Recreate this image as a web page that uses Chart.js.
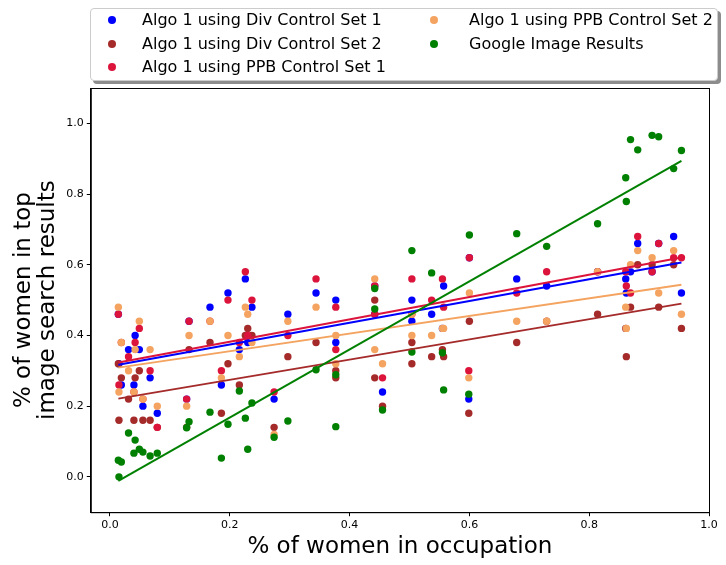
<!DOCTYPE html>
<html>
<head>
<meta charset="utf-8">
<script src="https://cdn.jsdelivr.net/npm/chart.js@4.4.0/dist/chart.umd.min.js"></script>
<style>
  body { margin: 0; background: #fff; font-family: 'DejaVu Sans', sans-serif; }
  #wrap { position: relative; width: 726px; height: 565px; }
  #grafico { position: absolute; left: 0; top: 0; }
  #legenda {
    position: absolute; left: 90px; top: 8px; width: 626px; height: 71px;
    border: 1px solid #ccc; border-radius: 4px; background: #fff;
    box-shadow: 3px 3px 0 rgba(0, 0, 0, 0.45);
  }
  .voce { position: absolute; font-size: 16px; line-height: 20px; white-space: nowrap; color: #000; }
  .pallino { position: absolute; width: 8px; height: 8px; border-radius: 50%; }
</style>
</head>
<body>
<div id="wrap">
  <canvas id="grafico" width="726" height="565"></canvas>
  <div id="legenda"></div>
</div>
<script>
// % donne nell'occupazione (asse x), una voce per occupazione
const percDonneOccupazione = [
  0.014, 0.015, 0.019, 0.031, 0.040, 0.042, 0.049, 0.055, 0.067, 0.079,
  0.128, 0.132, 0.167, 0.186, 0.197, 0.216, 0.226, 0.230, 0.237, 0.274,
  0.297, 0.344, 0.377, 0.377, 0.442, 0.442, 0.455, 0.504, 0.504, 0.537,
  0.555, 0.557, 0.599, 0.600, 0.679, 0.729, 0.814, 0.861, 0.862, 0.869,
  0.881, 0.905, 0.916, 0.941, 0.954
];

const divSet1 = [
  0.46, 0.32, 0.26, 0.36, 0.26, 0.40, 0.36, 0.20, 0.28, 0.18,
  0.22, 0.44, 0.48, 0.26, 0.52, 0.36, 0.56, 0.38, 0.48, 0.22,
  0.46, 0.52, 0.50, 0.38, 0.54, 0.46, 0.24, 0.50, 0.44, 0.46,
  0.42, 0.54, 0.22, 0.62, 0.56, 0.54, 0.58, 0.56, 0.52, 0.58,
  0.66, 0.58, 0.66, 0.68, 0.52
];

const divSet2 = [
  0.32, 0.16, 0.28, 0.22, 0.16, 0.28, 0.30, 0.16, 0.16, 0.14,
  0.14, 0.36, 0.38, 0.18, 0.32, 0.26, 0.40, 0.42, 0.40, 0.14,
  0.34, 0.38, 0.30, 0.28, 0.50, 0.28, 0.20, 0.38, 0.32, 0.34,
  0.36, 0.34, 0.18, 0.44, 0.38, 0.44, 0.46, 0.42, 0.34, 0.48,
  0.60, 0.60, 0.48, 0.60, 0.42
];

const ppbSet1 = [
  0.46, 0.26, 0.38, 0.34, 0.24, 0.38, 0.42, 0.22, 0.30, 0.14,
  0.22, 0.44, 0.44, 0.30, 0.50, 0.38, 0.58, 0.40, 0.50, 0.24,
  0.40, 0.56, 0.48, 0.36, 0.54, 0.46, 0.28, 0.56, 0.46, 0.50,
  0.56, 0.48, 0.30, 0.62, 0.52, 0.58, 0.58, 0.58, 0.54, 0.52,
  0.68, 0.58, 0.66, 0.62, 0.62
];

const ppbSet2 = [
  0.48, 0.24, 0.38, 0.30, 0.24, 0.36, 0.44, 0.22, 0.36, 0.20,
  0.20, 0.40, 0.44, 0.28, 0.40, 0.34, 0.48, 0.46, 0.38, 0.12,
  0.44, 0.48, 0.40, 0.32, 0.56, 0.36, 0.32, 0.40, 0.46, 0.40,
  0.42, 0.42, 0.28, 0.52, 0.44, 0.44, 0.58, 0.48, 0.42, 0.60,
  0.64, 0.62, 0.52, 0.64, 0.46
];

const googleImmagini = [
  0.047, 0.000, 0.042, 0.124, 0.067, 0.104, 0.078, 0.070, 0.059, 0.067,
  0.139, 0.156, 0.183, 0.053, 0.149, 0.243, 0.166, 0.078, 0.209, 0.112,
  0.158, 0.303, 0.289, 0.142, 0.533, 0.475, 0.189, 0.640, 0.353, 0.577,
  0.351, 0.246, 0.234, 0.684, 0.688, 0.652, 0.716, 0.846, 0.779, 0.954,
  0.925, 0.966, 0.962, 0.872, 0.923
];

const tickAsse = [0.0, 0.2, 0.4, 0.6, 0.8, 1.0];

const serie = [
  { nome: 'Algo 1 using Div Control Set 1', valori: divSet1, colore: '#0000ff' },
  { nome: 'Algo 1 using Div Control Set 2', valori: divSet2, colore: '#a52a2a' },
  { nome: 'Algo 1 using PPB Control Set 1', valori: ppbSet1, colore: '#dc143c' },
  { nome: 'Algo 1 using PPB Control Set 2', valori: ppbSet2, colore: '#f4a460' },
  { nome: 'Google Image Results', valori: googleImmagini, colore: '#008000' }
];

// retta dei minimi quadrati, disegnata tra il primo e l'ultimo x
function retta(xs, ys) {
  const n = xs.length;
  const mx = xs.reduce((a, b) => a + b, 0) / n;
  const my = ys.reduce((a, b) => a + b, 0) / n;
  let sxy = 0, sxx = 0;
  xs.forEach((x, i) => {
    sxy += (x - mx) * (ys[i] - my);
    sxx += (x - mx) * (x - mx);
  });
  const b = sxy / sxx;
  const a = my - b * mx;
  const x0 = Math.min(...xs), x1 = Math.max(...xs);
  return [{ x: x0, y: a + b * x0 }, { x: x1, y: a + b * x1 }];
}

const datasets = [];
serie.forEach((s, i) => {
  datasets.push({
    label: s.nome,
    data: percDonneOccupazione.map((x, k) => ({ x, y: s.valori[k] })),
    backgroundColor: s.colore,
    borderColor: s.colore,
    borderWidth: 0,
    pointRadius: 3.7,
    showLine: false,
    order: 20 - i
  });
});
serie.forEach((s, i) => {
  datasets.push({
    label: s.nome + ' fit',
    data: retta(percDonneOccupazione, s.valori),
    borderColor: s.colore,
    borderWidth: 2,
    pointRadius: 0,
    showLine: true,
    order: 10 - i
  });
});

// cornice completa attorno all'area del grafico
const cornice = {
  id: 'cornice',
  afterDraw(chart) {
    const { ctx, chartArea: a } = chart;
    ctx.save();
    ctx.strokeStyle = '#000';
    ctx.lineWidth = 1;
    ctx.strokeRect(a.left + 0.5, a.top + 0.5, a.right - a.left, a.bottom - a.top);
    ctx.restore();
  }
};

const fissaTick = axis => { axis.ticks = tickAsse.map(v => ({ value: v })); };

new Chart(document.getElementById('grafico').getContext('2d'), {
  type: 'scatter',
  data: { datasets },
  plugins: [cornice],
  options: {
    responsive: false,
    animation: false,
    layout: { padding: { top: 88, right: 17, left: 8, bottom: 0 } },
    plugins: { legend: { display: false }, tooltip: { enabled: false } },
    scales: {
      x: {
        min: -0.032,
        max: 1.0,
        afterBuildTicks: fissaTick,
        grid: { drawOnChartArea: false, color: '#000', tickLength: 4 },
        border: { color: '#000' },
        ticks: { color: '#000', font: { family: 'DejaVu Sans', size: 11 }, padding: 2, maxRotation: 0, callback: v => v.toFixed(1) },
        title: { display: true, text: '% of women in occupation', color: '#000', font: { family: 'DejaVu Sans', size: 23 }, padding: { top: 0 } }
      },
      y: {
        min: -0.1,
        max: 1.1,
        afterBuildTicks: fissaTick,
        grid: { drawOnChartArea: false, color: '#000', tickLength: 4 },
        border: { color: '#000' },
        ticks: { color: '#000', font: { family: 'DejaVu Sans', size: 11 }, padding: 3, callback: v => v.toFixed(1) },
        title: { display: true, text: ['% of women in top', 'image search results'], color: '#000', font: { family: 'DejaVu Sans', size: 23, lineHeight: 1.05 }, padding: { bottom: 3 } }
      }
    }
  }
});

// legenda a due colonne, riempita per colonna come nell'originale
const legenda = document.getElementById('legenda');
const posizioni = [[0, 0], [0, 1], [0, 2], [1, 0], [1, 1]];
serie.forEach((s, i) => {
  const [col, riga] = posizioni[i];
  const pallino = document.createElement('div');
  pallino.className = 'pallino';
  pallino.style.background = s.colore;
  pallino.style.left = (col ? 339 : 17) + 'px';
  pallino.style.top = (7 + riga * 23.5) + 'px';
  const voce = document.createElement('div');
  voce.className = 'voce';
  voce.textContent = s.nome;
  voce.style.left = (col ? 378 : 51) + 'px';
  voce.style.top = (1 + riga * 23.5) + 'px';
  legenda.appendChild(pallino);
  legenda.appendChild(voce);
});
</script>
</body>
</html>
